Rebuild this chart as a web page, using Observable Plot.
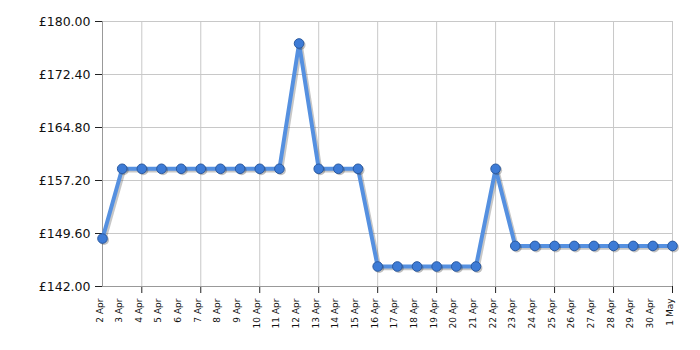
<!DOCTYPE html>
<html>
<head>
<meta charset="utf-8">
<script src="https://cdn.jsdelivr.net/npm/d3@7"></script>
<script src="https://cdn.jsdelivr.net/npm/@observablehq/plot@0.6"></script>
<style>
  html, body { margin: 0; padding: 0; background: #fff; }
  #chart { width: 700px; height: 350px; }
</style>
</head>
<body>
<div id="chart"></div>
<script>
// Data
const dates = [
  "2024-04-02","2024-04-03","2024-04-04","2024-04-05","2024-04-06","2024-04-07",
  "2024-04-08","2024-04-09","2024-04-10","2024-04-11","2024-04-12","2024-04-13",
  "2024-04-14","2024-04-15","2024-04-16","2024-04-17","2024-04-18","2024-04-19",
  "2024-04-20","2024-04-21","2024-04-22","2024-04-23","2024-04-24","2024-04-25",
  "2024-04-26","2024-04-27","2024-04-28","2024-04-29","2024-04-30","2024-05-01"
];
const prices = [
  148.88, 158.88, 158.88, 158.88, 158.88, 158.88,
  158.88, 158.88, 158.88, 158.88, 176.85, 158.88,
  158.88, 158.88, 144.87, 144.87, 144.87, 144.87,
  144.87, 144.87, 158.88, 147.82, 147.82, 147.82,
  147.82, 147.82, 147.82, 147.82, 147.82, 147.82
];
const yTicks = [142.00, 149.60, 157.20, 164.80, 172.40, 180.00];
const gridDates = ["2024-04-04","2024-04-07","2024-04-10","2024-04-13","2024-04-16",
  "2024-04-19","2024-04-22","2024-04-25","2024-04-28","2024-05-01"];

const data = dates.map((d, i) => ({date: new Date(d + "T00:00:00Z"), price: prices[i]}));
const gridD = gridDates.map(d => new Date(d + "T00:00:00Z"));
const fmtDate = d3.utcFormat("%-d %b");

const chart = Plot.plot({
  width: 700,
  height: 350,
  marginLeft: 102,
  marginRight: 28,
  marginTop: 21,
  marginBottom: 64,
  style: {fontFamily: "'DejaVu Sans', Verdana, sans-serif", background: "#fff"},
  x: {type: "utc", domain: [data[0].date, data[data.length - 1].date]},
  y: {domain: [142, 180]},
  marks: [
    Plot.gridY(yTicks, {stroke: "#c8c8c8", strokeOpacity: 1}),
    Plot.gridX(gridD, {stroke: "#c8c8c8", strokeOpacity: 1}),
    Plot.axisY(yTicks, {
      tickSize: 7, tickPadding: 5, fontSize: 12.5, stroke: "#222", fill: "#111",
      tickFormat: d => "£" + d.toFixed(2), label: null
    }),
    Plot.axisX(gridD, {tickSize: 7, text: null, label: null, stroke: "#222"}),
    Plot.ruleX([data[0].date], {stroke: "#999"}),
    Plot.ruleY([142], {stroke: "#999"}),
    Plot.text(data, {
      x: "date", text: d => fmtDate(d.date), frameAnchor: "bottom",
      dy: 12, rotate: -90, textAnchor: "end", fontSize: 9, fill: "#111"
    }),
    // shadow
    Plot.line(data, {x: "date", y: "price", dx: 1.5, dy: 1.5, stroke: "#444", strokeOpacity: 0.3, strokeWidth: 4.5}),
    Plot.line(data, {x: "date", y: "price", stroke: "#5590e0", strokeWidth: 4}),
    Plot.dot(data, {x: "date", y: "price", dx: 1.5, dy: 1.5, r: 5, fill: "#333", fillOpacity: 0.3, stroke: "none"}),
    Plot.dot(data, {x: "date", y: "price", r: 4.8, fill: "#3d7bd6", stroke: "#2b5aa0", strokeWidth: 1})
  ]
});
document.getElementById("chart").appendChild(chart);
</script>
</body>
</html>
